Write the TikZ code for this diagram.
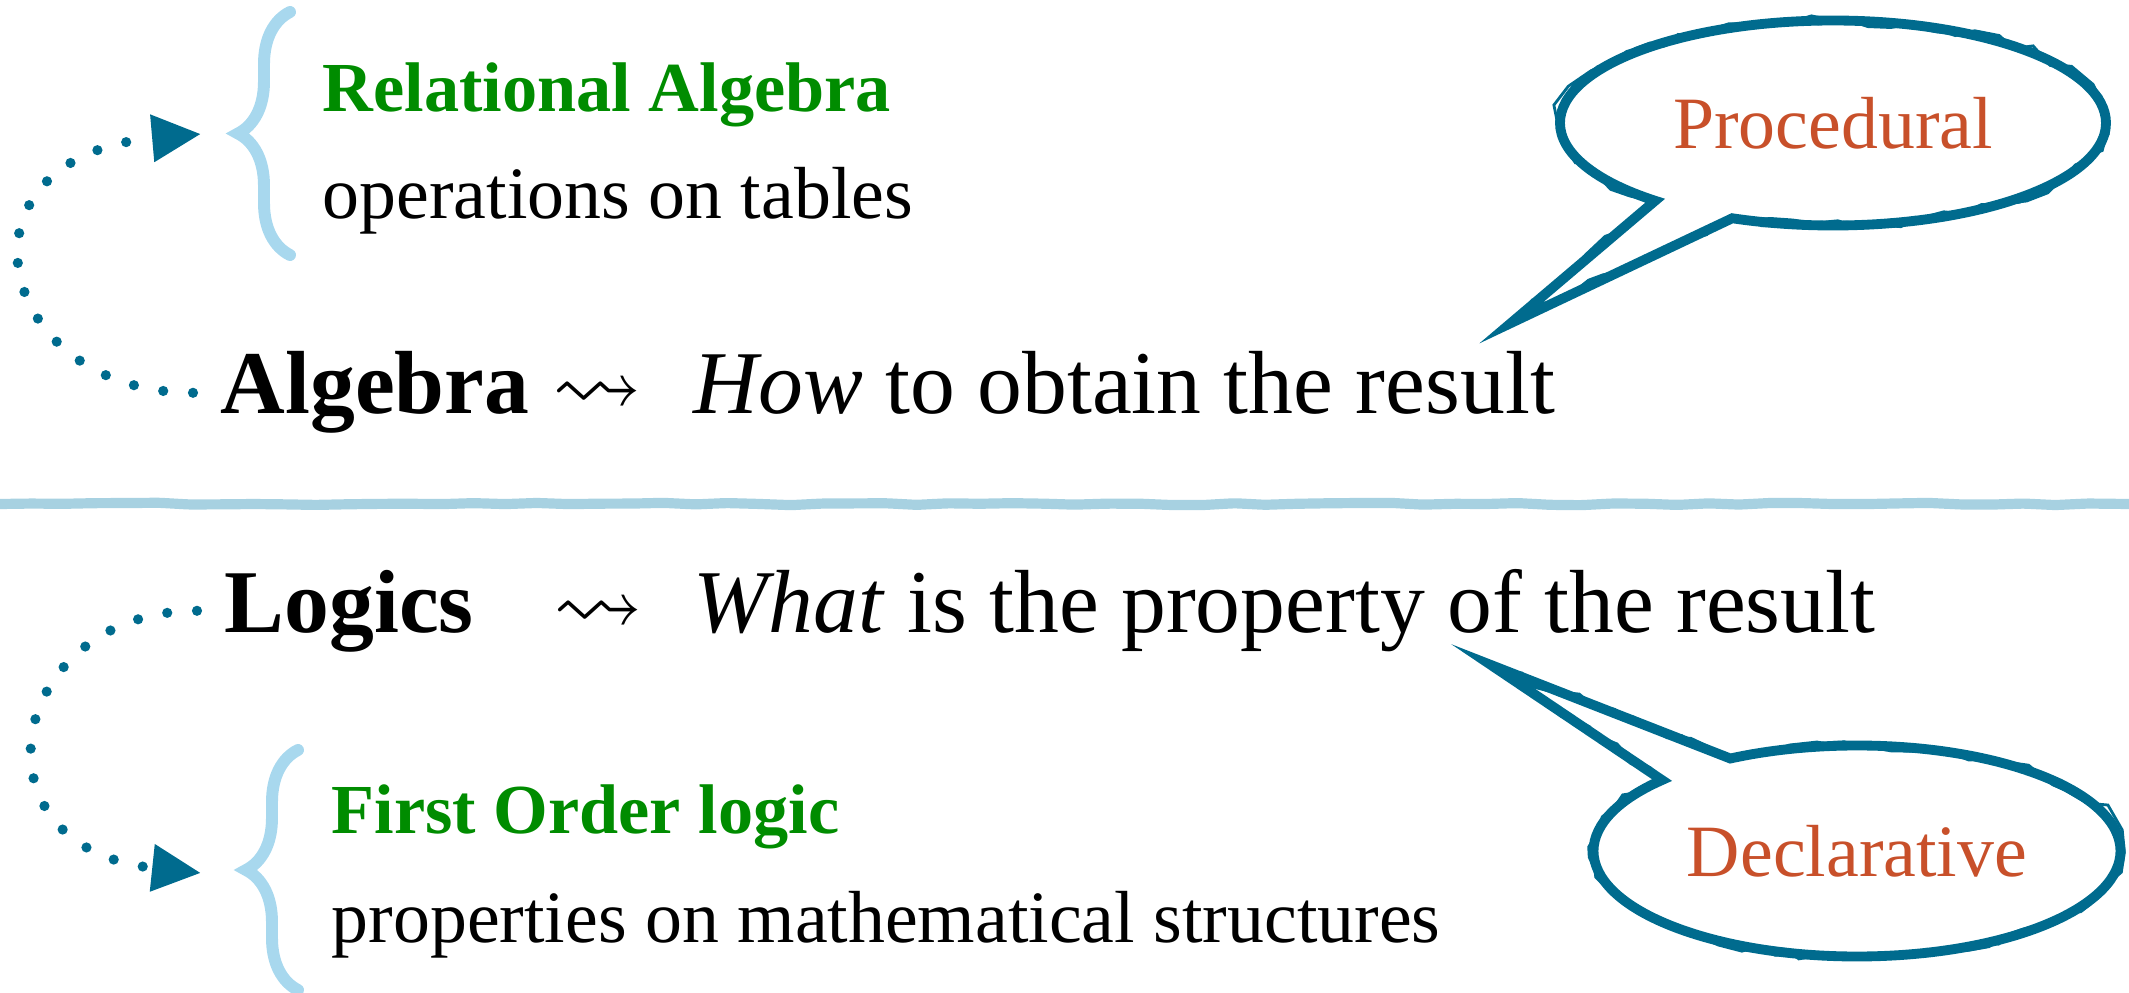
\documentclass[tikz,border=0pt]{standalone}
\usepackage{amssymb}
\usepackage{fontspec}
\setmainfont{Liberation Serif}
\usepackage{tikz}
\usetikzlibrary{shapes,shapes.callouts,arrows.meta,decorations.pathreplacing,decorations.pathmorphing,calc}
\usepackage{xcolor}
\definecolor{petrol}{HTML}{006B8E}
\definecolor{skyline}{HTML}{A8D8EE}
\definecolor{paleline}{HTML}{A7D1E1}
\definecolor{leafgreen}{HTML}{008C00}
\definecolor{rust}{HTML}{C8502A}

\begin{document}
\begin{tikzpicture}[every node/.style={inner sep=2pt, anchor=base west},
  main/.style={font=\fontsize{25.5}{30}\selectfont},
  sub/.style={font=\fontsize{21}{25}\selectfont},
  head/.style={font=\fontsize{20}{24}\selectfont\bfseries, text=leafgreen},
  curly/.style={draw=skyline, line width=3.4pt, line cap=round, decorate, decoration={brace, amplitude=0.52cm}},
  dotlink/.style={draw=petrol, line width=2.9pt, line cap=round, dash pattern=on 0pt off 8.5pt, shorten <=0.2cm, -{Triangle[length=0.49cm, width=0.45cm]}},
  divider/.style={draw=paleline, line width=2.9pt, rounded corners=1pt, decorate, decoration={random steps, segment length=9pt, amplitude=0.35pt}},
  bubble/.style={ellipse callout, anchor=center, draw=petrol, line width=2.8pt, callout pointer arc=19, font=\fontsize{21}{25}\selectfont, text=rust,
    preaction={draw=petrol, line width=0.8pt, decorate, decoration={random steps, segment length=6pt, amplitude=1.6pt}},
    postaction={draw=petrol, line width=0.6pt, decorate, decoration={random steps, segment length=4pt, amplitude=1.2pt}}}]
  \pgfmathsetseed{7}
  \useasboundingbox (0,0) rectangle (21.29,9.92);

  % upper half
  \node[head] (relalg) at (3.15,8.81) {Relational Algebra};
  \node[sub] (ops) at (3.15,7.74) {operations on tables};
  \draw[curly] (2.90,7.37) -- (2.90,9.80);
  \coordinate (relin) at (2.01,8.58);

  \node[main] (alg) at (2.13,5.78) {\textbf{Algebra}};
  \node[main] (algto) at (5.45,5.78) {$\leadsto$};
  \node[main] (how) at (6.86,5.78) {\textit{How} to obtain the result};
  \draw[dotlink] (alg.west) to[out=180, in=185, out distance=2.2cm, in distance=2.6cm] (relin);

  \coordinate (proctip) at (15.11,6.69);
  \node[bubble, minimum width=5.46cm, minimum height=2.05cm, callout absolute pointer=(proctip)] (proc) at (18.33,8.69) {Procedural};

  \draw[divider] (0,4.88) -- (21.29,4.88);

  % lower half
  \node[main] (log) at (2.17,3.60) {\textbf{Logics}};
  \node[main] (logto) at (5.46,3.60) {$\leadsto$};
  \node[main] (what) at (6.86,3.60) {\textit{What} is the property of the result};

  \node[head] (fol) at (3.24,1.59) {First Order logic};
  \node[sub] (props) at (3.24,0.50) {properties on mathematical structures};
  \draw[curly] (2.98,0.02) -- (2.98,2.42);
  \coordinate (folin) at (2.01,1.19);
  \draw[dotlink] (log.west) to[out=180, in=174, out distance=2.1cm, in distance=2.4cm] (folin);

  \coordinate (decltip) at (14.91,3.27);
  \node[bubble, minimum width=5.27cm, minimum height=2.11cm, callout absolute pointer=(decltip)] (decl) at (18.57,1.41) {Declarative};
\end{tikzpicture}
\end{document}
